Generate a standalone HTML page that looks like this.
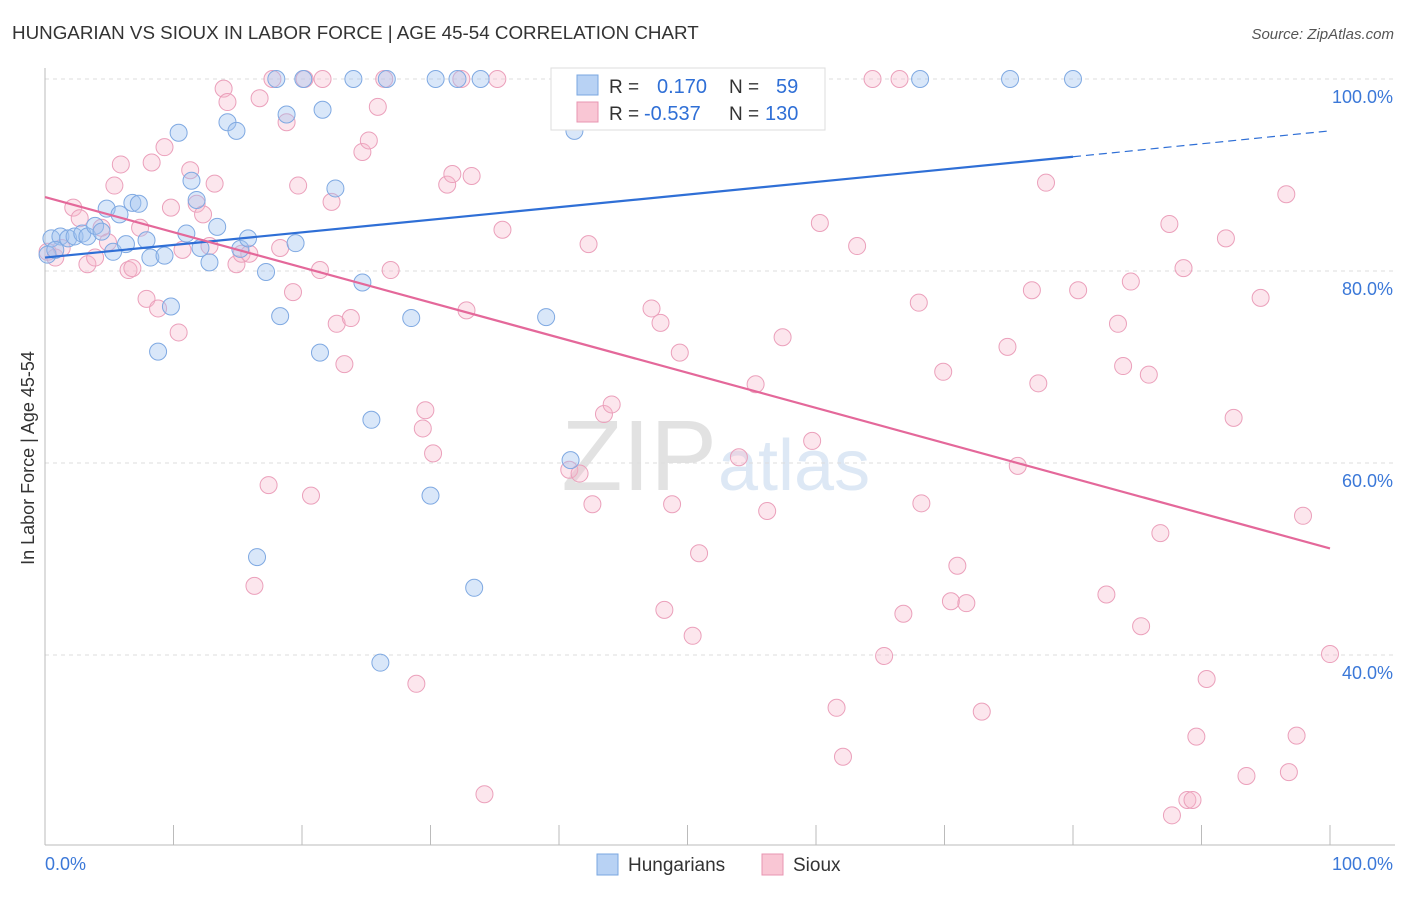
<!DOCTYPE html>
<html><head><meta charset="utf-8"><style>
body{margin:0;background:#fff;font-family:"Liberation Sans",sans-serif}
svg text{font-family:"Liberation Sans",sans-serif}
</style></head><body>
<svg id="chart" width="1406" height="892">
<text x="12" y="39" font-size="18.8" fill="#333">HUNGARIAN VS SIOUX IN LABOR FORCE | AGE 45-54 CORRELATION CHART</text>
<text x="1394" y="39" font-size="15" fill="#555" font-style="italic" text-anchor="end">Source: ZipAtlas.com</text>
<text x="717" y="490" font-size="100" fill="#e2e2e2" text-anchor="end" font-family="Liberation Serif">ZIP</text>
<text x="718" y="490" font-size="72" fill="#dde8f5">atlas</text>
<text transform="translate(34,458) rotate(-90)" font-size="18" fill="#333" text-anchor="middle">In Labor Force | Age 45-54</text>
<g id="grid"></g><g id="marks"></g><g id="lines"></g>
<g>
<rect x="551" y="68" width="274" height="62" fill="#fff" stroke="#ddd"/>
<rect x="577" y="75" width="21" height="20" fill="#b8d2f4" stroke="#7aa7e0"/>
<rect x="577" y="102" width="21" height="20" fill="#f9c6d4" stroke="#e895b2"/>
<text x="609" y="93" font-size="19" fill="#333">R =</text>
<text x="657" y="93" font-size="20" fill="#2f6fd6">0.170</text>
<text x="729" y="93" font-size="19" fill="#333">N =</text>
<text x="776" y="93" font-size="20" fill="#2f6fd6">59</text>
<text x="609" y="120" font-size="19" fill="#333">R =</text>
<text x="644" y="120" font-size="20" fill="#2f6fd6">-0.537</text>
<text x="729" y="120" font-size="19" fill="#333">N =</text>
<text x="765" y="120" font-size="20" fill="#2f6fd6">130</text>
</g>
<g>
<rect x="597" y="854" width="21" height="21" fill="#b8d2f4" stroke="#7aa7e0"/>
<text x="628" y="871" font-size="19" fill="#333">Hungarians</text>
<rect x="762" y="854" width="21" height="21" fill="#f9c6d4" stroke="#e895b2"/>
<text x="793" y="871" font-size="19" fill="#333">Sioux</text>
</g>
</svg>
<script>
const yTicks=[100,80,60,40];
const xTickCount=10;
const blueX=[0.5,1.2,1.8,2.3,2.9,3.3,3.9,4.4,4.8,5.3,5.8,6.3,6.8,7.3,7.9,8.2,8.8,9.3,9.8,10.4,11.0,11.4,11.8,12.1,12.8,13.4,14.2,14.9,15.2,15.8,16.5,17.2,18.0,18.3,18.8,19.5,20.1,21.4,21.6,22.6,24.0,24.7,25.4,26.1,26.6,28.5,30.0,30.4,32.1,33.4,33.9,39.0,40.9,41.2,68.1,75.1,80.0,0.2,0.8];
const blueY=[83.4,83.6,83.4,83.6,83.9,83.6,84.7,84.1,86.5,82.0,85.9,82.8,87.1,87.0,83.2,81.4,71.6,81.6,76.3,94.4,83.9,89.4,87.4,82.4,80.9,84.6,95.5,94.6,82.3,83.4,50.2,79.9,100,75.3,96.3,82.9,100,71.5,96.8,88.6,100,78.8,64.5,39.2,100,75.1,56.6,100,100,47.0,100,75.2,60.3,94.6,100,100,100,81.7,82.2];
const pinkX=[0.2,0.8,1.3,2.2,2.7,3.3,3.9,4.4,4.9,5.4,5.9,6.5,6.8,7.4,7.9,8.3,8.8,9.3,9.8,10.4,10.7,11.3,11.8,12.3,12.8,13.2,13.9,14.2,14.9,15.3,15.9,16.3,16.7,17.4,17.7,18.3,18.8,19.3,19.7,20.2,20.7,21.4,21.6,22.3,22.7,23.3,23.8,24.7,25.2,25.9,26.4,26.9,28.9,29.6,29.4,30.2,31.3,31.7,32.4,32.8,33.2,34.2,35.2,35.6,40.8,41.6,42.3,42.6,43.5,44.1,47.2,47.9,48.2,48.8,49.4,50.4,50.9,52.1,54.0,55.3,55.6,56.2,57.4,59.7,60.3,61.6,62.1,63.2,64.4,65.3,66.5,66.8,68.0,68.2,69.9,70.5,71.0,71.7,72.9,74.9,75.7,76.8,77.3,77.9,80.4,82.6,83.5,83.9,84.5,85.3,85.9,86.8,87.5,87.7,88.6,88.9,89.3,89.6,90.4,91.9,92.5,93.5,94.6,96.6,96.8,97.4,97.9,100];
const pinkY=[82.0,81.4,82.4,86.6,85.5,80.7,81.4,84.5,83.0,88.9,91.1,80.1,80.3,84.5,77.1,91.3,76.1,92.9,86.6,73.6,82.2,90.5,87.0,85.9,82.6,89.1,99.0,97.6,80.7,81.8,81.8,47.2,98.0,57.7,100,82.4,95.5,77.8,88.9,100,56.6,80.1,100,87.2,74.5,70.3,75.1,92.4,93.6,97.1,100,80.1,37.0,65.5,63.6,61.0,89.0,90.1,100,75.9,89.9,25.5,100,84.3,59.3,58.9,82.8,55.7,65.1,66.1,76.1,74.6,44.7,55.7,71.5,42.0,50.6,100,60.6,68.2,100,55.0,73.1,62.3,85.0,34.5,29.4,82.6,100,39.9,100,44.3,76.7,55.8,69.5,45.6,49.3,45.4,34.1,72.1,59.7,78.0,68.3,89.2,78.0,46.3,74.5,70.1,78.9,43.0,69.2,52.7,84.9,23.3,80.3,24.9,24.9,31.5,37.5,83.4,64.7,27.4,77.2,88.0,27.8,31.6,54.5,40.1];
const blueTrendX=[0,80,100];
const blueTrendY=[81.4,91.9,94.6];
const pinkTrendX=[0,100];
const pinkTrendY=[87.7,51.1];

const NS='http://www.w3.org/2000/svg';
const sx=v=>45+v*12.85;
const sy=v=>79+(100-v)*9.6;
function mk(tag,attrs,parent){const e=document.createElementNS(NS,tag);for(const k in attrs)e.setAttribute(k,attrs[k]);parent.appendChild(e);return e;}
const grid=document.getElementById('grid');
yTicks.forEach(t=>{
  const l=mk('line',{x1:45,x2:1395,y1:sy(t),y2:sy(t),stroke:'#ddd','stroke-dasharray':'4,4'},grid);
  
  
  const tx=mk('text',{x:1393,y:sy(t)+24,'font-size':18,fill:'#3b78d8','text-anchor':'end'},grid);
  tx.textContent=t.toFixed(1)+'%';
  
  
});
mk('line',{x1:45,x2:45,y1:68,y2:845,stroke:'#bbb'},grid);
mk('line',{x1:45,x2:1395,y1:845,y2:845,stroke:'#bbb'},grid);
for(let i=0;i<=xTickCount;i++){
  const t=mk('line',{x1:sx(i*10),x2:sx(i*10),y1:825,y2:845,stroke:'#bbb'},grid);
  
  
}
const xl=mk('text',{x:45,y:870,'font-size':18,fill:'#3b78d8'},grid);xl.textContent='0.0%';


const xr=mk('text',{x:1393,y:870,'font-size':18,fill:'#3b78d8','text-anchor':'end'},grid);xr.textContent='100.0%';



const marks=document.getElementById('marks');
pinkX.forEach((x,i)=>{
  const c=mk('circle',{cx:sx(x),cy:sy(pinkY[i]),r:8.5,fill:'rgba(246,182,203,0.35)',stroke:'#eba0bb','stroke-width':1},marks);
  
  
});
blueX.forEach((x,i)=>{
  const c=mk('circle',{cx:sx(x),cy:sy(blueY[i]),r:8.5,fill:'rgba(160,196,240,0.4)',stroke:'#7fa9e2','stroke-width':1},marks);
  
  
});
const lines=document.getElementById('lines');
const bt=mk('line',{x1:sx(blueTrendX[0]),y1:sy(blueTrendY[0]),x2:sx(blueTrendX[1]),y2:sy(blueTrendY[1]),stroke:'#2f6fd6','stroke-width':2.2},lines);


const bd=mk('line',{x1:sx(blueTrendX[1]),y1:sy(blueTrendY[1]),x2:sx(blueTrendX[2]),y2:sy(blueTrendY[2]),stroke:'#2f6fd6','stroke-width':1.2,'stroke-dasharray':'8,5'},lines);


const pt=mk('line',{x1:sx(pinkTrendX[0]),y1:sy(pinkTrendY[0]),x2:sx(pinkTrendX[1]),y2:sy(pinkTrendY[1]),stroke:'#e4689a','stroke-width':2.2},lines);


</script>
</body></html>
